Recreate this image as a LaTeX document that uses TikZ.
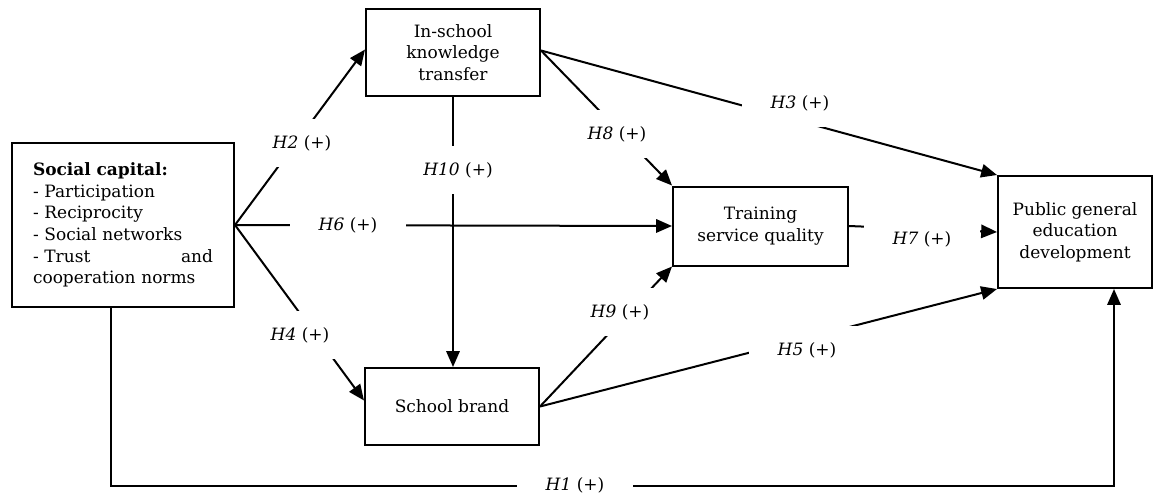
\documentclass[tikz,border=0pt]{standalone}
\usepackage{fontspec}
\setmainfont{DejaVu Serif}
\usetikzlibrary{arrows.meta,calc}

\tikzset{
	>={Triangle[length=9.5pt,width=8pt]},
	box/.style={rectangle,draw,align=center,inner sep=0pt},
	hyp/.style={fill=white,inner xsep=17pt,inner ysep=10pt}
}

\def\concepts{
	\path (123,225) node(Social) [box,minimum width=133.2pt,minimum height=98.4pt,text width=108pt,align=left]
				{\textbf{Social capital:}\\- Participation\\- Reciprocity\\- Social networks\\- Trust\hfill and\\cooperation norms}
			(453,52.5) node(Transfer) [box,minimum width=104.4pt,minimum height=52.2pt] {In-school\\knowledge\\transfer}
			(760.5,226) node(Quality) [box,minimum width=105pt,minimum height=47.4pt] {Training\\service quality}
			(452,406.5) node(Brand) [box,minimum width=104.4pt,minimum height=46.2pt] {School brand}
			(1075,232) node(Public) [box,minimum width=92.4pt,minimum height=67.2pt] {Public general\\education\\development};
}
\def\hypotheses{
	\path (302,143) node(H2) [hyp] {\textit{H2} (+)}
			(458,170) node(H10) [hyp] {\textit{H10} (+)}
			(617,134) node(H8) [hyp] {\textit{H8} (+)}
			(800,103) node(H3) [hyp] {\textit{H3} (+)}
			(348,225) node(H6) [hyp] {\textit{H6} (+)}
			(922,239) node(H7) [hyp] {\textit{H7} (+)}
			(300,335) node(H4) [hyp] {\textit{H4} (+)}
			(620,312) node(H9) [hyp] {\textit{H9} (+)}
			(807,350) node(H5) [hyp] {\textit{H5} (+)}
			(575,485) node(H1) [hyp] {\textit{H1} (+)};
}

\begin{document}
\begin{tikzpicture}[x=0.6pt,y=-0.6pt,line width=1.2pt,font=\fontsize{10.2}{13}\selectfont]
\useasboundingbox (0,0) rectangle (1162,493);
\concepts
\draw[->] (Social.east) -- ($(Transfer.west)+(0,-3)$);
\draw[->] (Social.east) -- (Quality.west);
\draw[->] (Social.east) -- ($(Brand.west)+(0,-6)$);
\draw[->] (Transfer.south) -- (Transfer.south |- Brand.north);
\draw[->] ($(Transfer.east)+(0,-2)$) -- (Quality.north west);
\draw[->] ($(Transfer.east)+(0,-2)$) -- (Public.north west);
\draw[->] (Quality.east) -- (Public.west);
\draw[->] (Brand.east) -- (Quality.south west);
\draw[->] (Brand.east) -- (Public.south west);
\draw[->] ($(Social.south)+(-12,0)$) -- ++(0,178) -| ($(Public.south)+(39,0)$);
\hypotheses
\end{tikzpicture}
\end{document}
